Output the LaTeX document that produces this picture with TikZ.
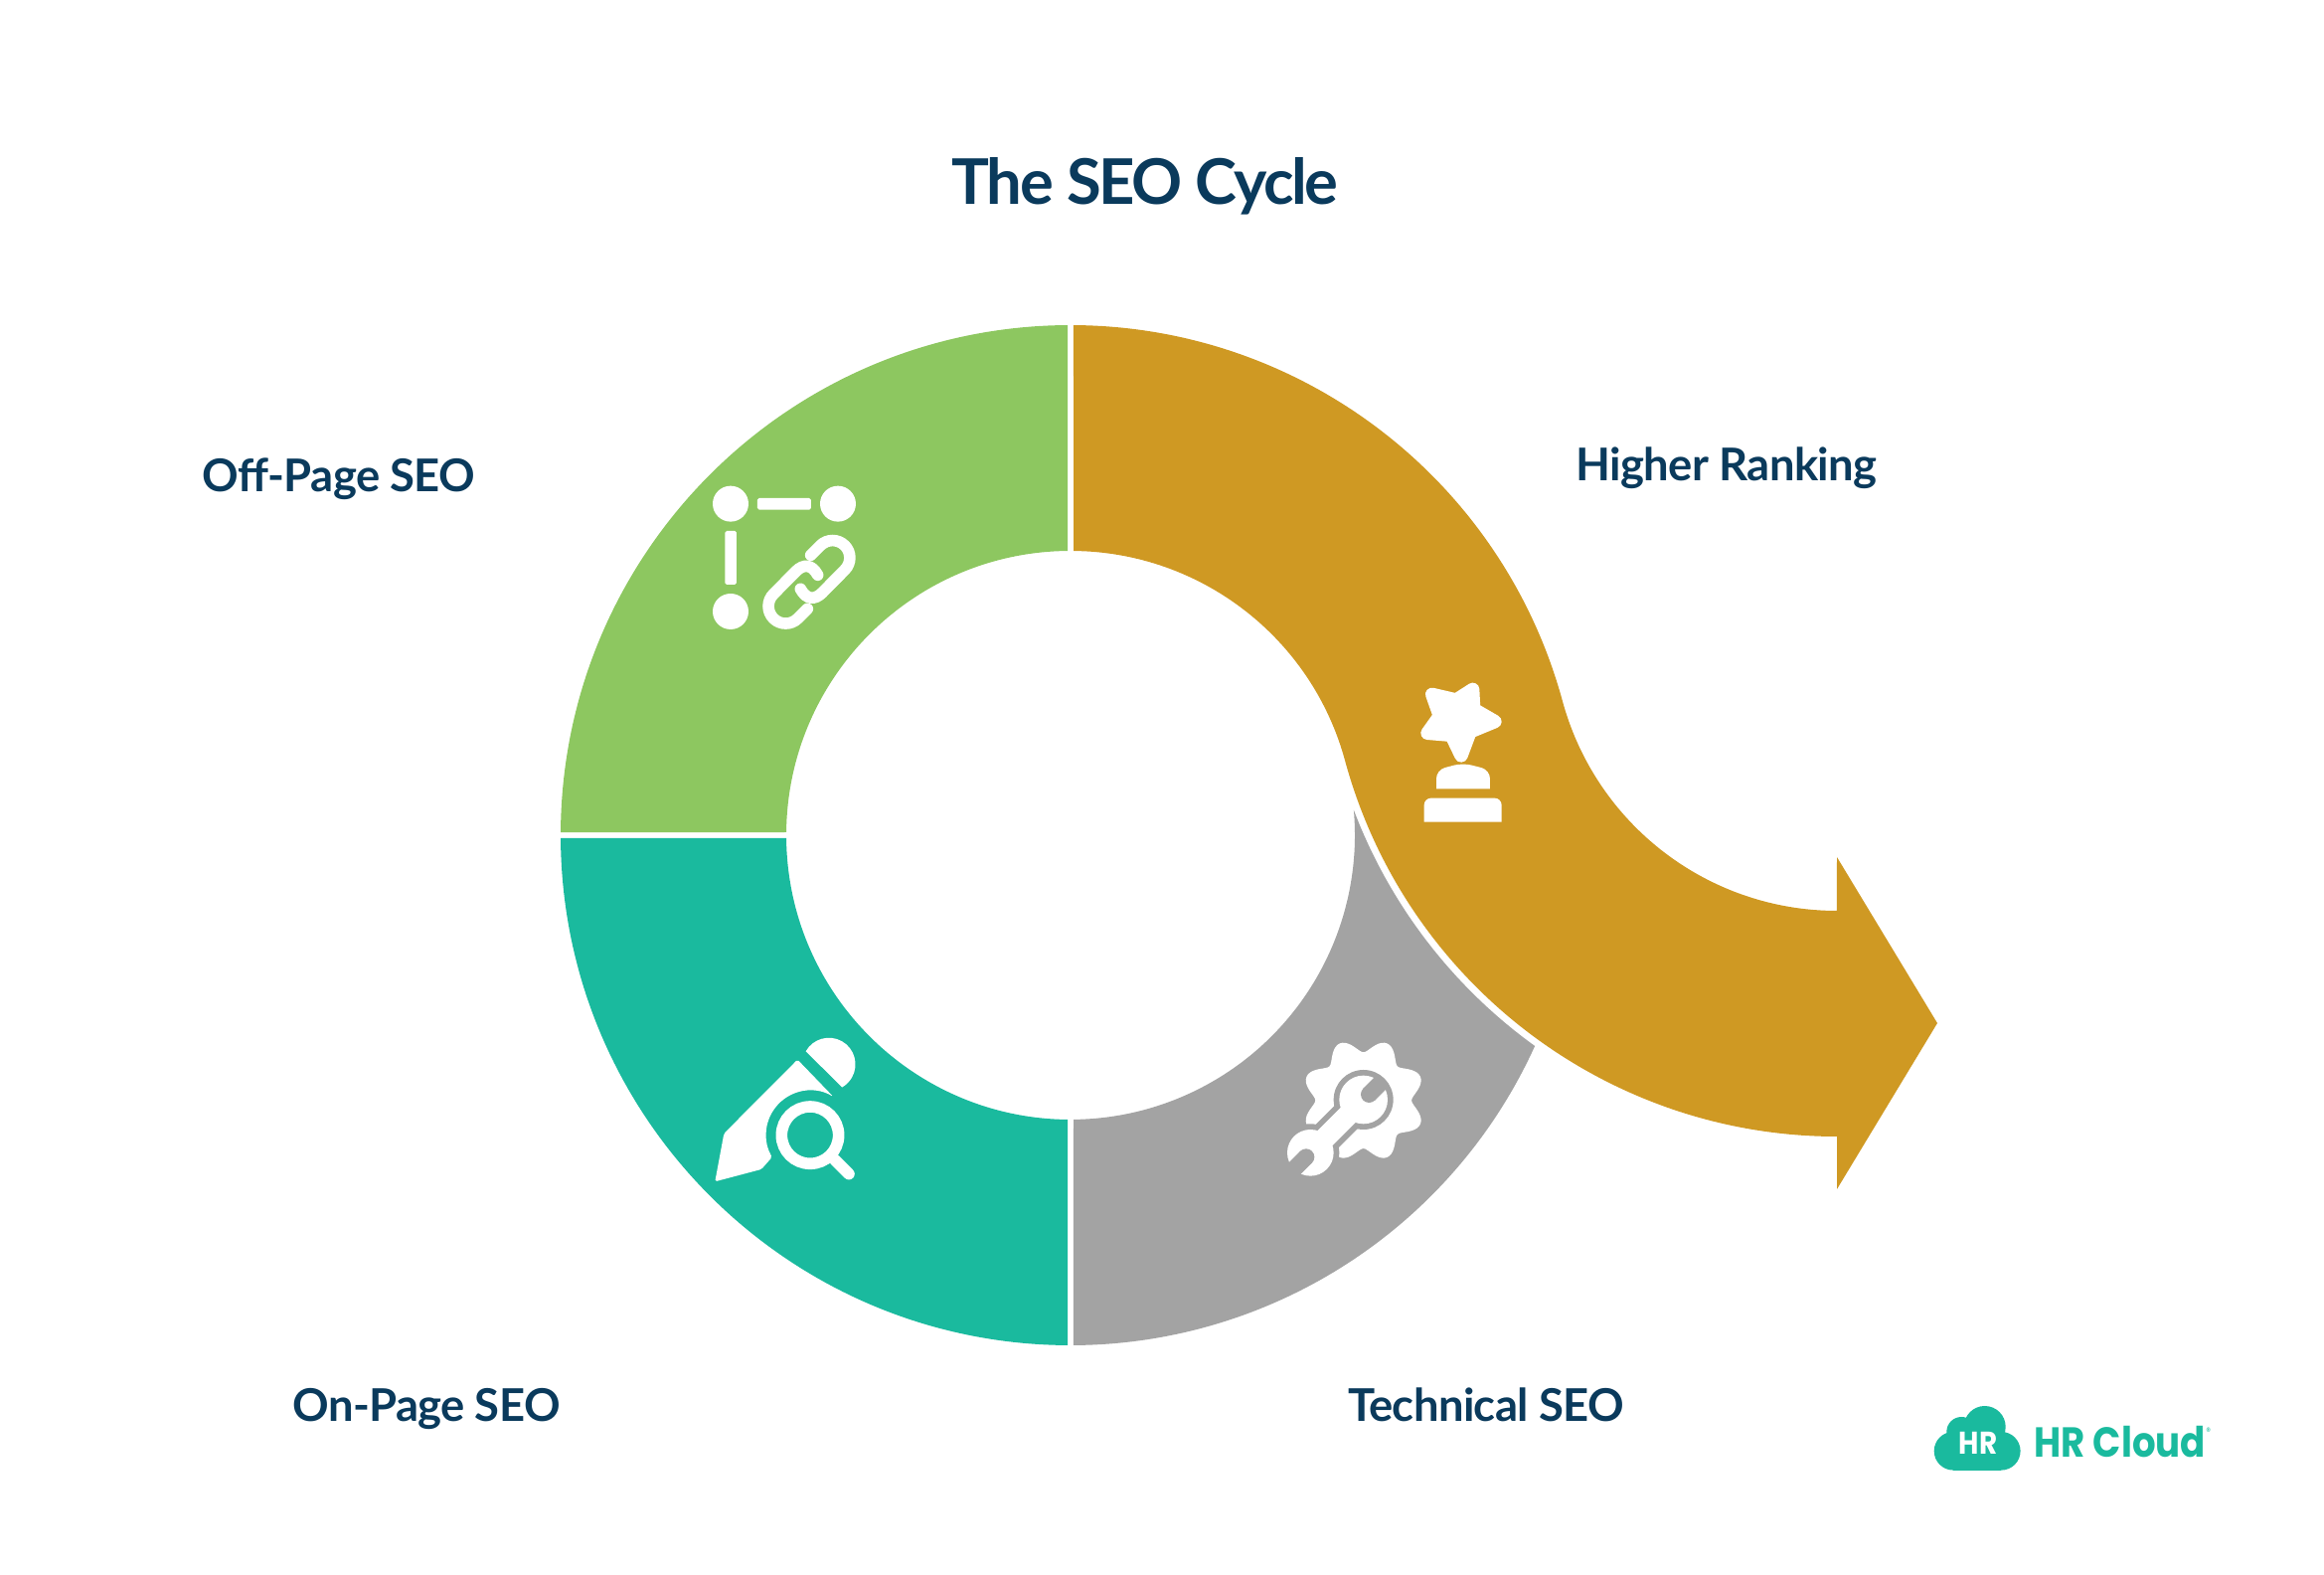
\documentclass[tikz,border=0pt]{standalone}
\usepackage{fontspec}
\setmainfont{Lato}
\newfontfamily\logofont{Poppins}[FakeStretch=0.88]
\newfontfamily\titlefont{Lato}[LetterSpace=-3.8]
\newfontfamily\tagfont{Lato}[LetterSpace=-1.4]
\usetikzlibrary{calc}
\definecolor{navy}{HTML}{0A3A5C}
\definecolor{offpage}{HTML}{8DC760}
\definecolor{onpage}{HTML}{1ABA9E}
\definecolor{technical}{HTML}{A3A3A3}
\definecolor{ranking}{HTML}{CF9923}
\tikzset{
  heading/.style={text=navy,font=\titlefont\fontsize{18}{20}\selectfont\bfseries,anchor=base,inner sep=0pt},
  tag/.style={text=navy,font=\tagfont\fontsize{12.9}{15}\selectfont\bfseries,anchor=base,inner sep=0pt},
  brand/.style={text=onpage,font=\logofont\fontsize{12}{14}\selectfont\bfseries,anchor=base west,inner sep=0pt},
  icon/.style={xscale=0.3333,yscale=-0.3333,white},
  chainlink/.style={draw=white,line width=3.3pt,line cap=round},
  wrenchgap/.style={draw=technical,line width=4.74pt}
}
\begin{document}
\begin{tikzpicture}[x=0.01cm,y=0.01cm,declare function={gearr(\t)=145+41*pow(max((1+cos(8*(\t-22.5)))/2,0.001),0.85);}]
    \useasboundingbox(0,0)rectangle(2338,1584);
    \coordinate (ring) at (1077,744);
    \coordinate (bend) at (1848,954);
    \node[heading] (title) at (1152,1378) {The SEO Cycle};
    \node[tag] (offlabel) at (341,1089.5) {Off-Page SEO};
    \node[tag] (ranklabel) at (1737,1100.5) {Higher Ranking};
    \node[tag] (onlabel) at (429,154) {On-Page SEO};
    \node[tag] (techlabel) at (1495,154) {Technical SEO};
    % ring
    \fill[offpage]($(ring)+(90.6:286)$)--($(ring)+(90.33:513)$)arc[start angle=90.33,end angle=179.67,radius=513]--($(ring)+(179.4:286)$)arc[start angle=179.4,end angle=90.6,radius=286]--cycle;
    \fill[onpage]($(ring)+(180.6:286)$)--($(ring)+(180.33:513)$)arc[start angle=180.33,end angle=269.67,radius=513]--($(ring)+(269.4:286)$)arc[start angle=269.4,end angle=180.6,radius=286]--cycle;
    \fill[technical]($(ring)+(-89.4:286)$)--($(ring)+(-89.67:513)$)arc[start angle=-89.67,end angle=-24.41,radius=513]arc[start angle=234.24,end angle=200.8,radius=520]arc[start angle=5.07,end angle=-89.4,radius=286]--cycle;
    % arrow
    \fill[ranking]($(ring)+(89.67:513)$)arc[start angle=89.67,end angle=15.24,radius=513]arc[start angle=195.24,end angle=270,radius=286]--(1848,722)--(1949,555)--(1848,388)--(1848,441)arc[start angle=270,end angle=195.24,radius=513]arc[start angle=15.24,end angle=89.4,radius=286]--cycle;
    % links icon
    \begin{scope}[shift={(680,1134)},icon]
      \fill(165,170)circle(54);
      \fill(489,170)circle(54);
      \fill(165,495)circle(54);
      \fill[rounded corners=0.5pt](246,153)rectangle(408,188);
      \fill[rounded corners=0.5pt](148,252)rectangle(183,414);
      \foreach \a in {0,180}{
        \draw[chainlink,rotate around={\a:(402,406)}](397,487)--(368,516)arc[start angle=45,end angle=225,radius=52]--(362,374).. controls (385,351) and (410,352) ..(428,385);
      }
    \end{scope}
    % trophy icon
    \begin{scope}[shift={(1380,924)},icon]
      \filldraw[draw=white,line width=3.8pt,line join=round](182,115)--(255,132)--(305,100)--(308,160)--(372,197)--(297,228)--(270,300)--(240,238)--(168,232)--(205,180)--cycle;
      \fill(195,400)[rounded corners=2.5pt]--(195,343)--(275,322)--(357,343)[sharp corners]--(357,400)--cycle;
      \fill(158,500)[rounded corners=2pt]--(158,428)--(392,428)[sharp corners]--(392,500)--cycle;
    \end{scope}
    % pen icon
    \begin{scope}[shift={(680,564)},icon]
      \fill(392,112)arc[start angle=209.4,end angle=420,radius=80]--cycle;
      \fill[rounded corners=0.5pt](367,137)--(475,249)arc[start angle=-59,end angle=-210.2,radius=134]--(258,468)--(118,505)--(145,360)--cycle;
      \draw[white,line width=3.3pt](405,365)circle(86);
      \draw[white,line width=3.3pt,line cap=round](480,440)--(522,482);
    \end{scope}
    % gear icon
    \begin{scope}[shift={(1270,554)},icon]
      \fill plot[domain=0:360,samples=145]({305+gearr(\x)*cos(\x)},{230+gearr(\x)*sin(\x)})--cycle;
      \fill[technical](305,228)circle(90);
      \fill[technical](145,388)circle(87);
      \draw[technical,line width=9.3pt](305,228)--(145,388);
      \fill(305,228)circle(73);
      \fill(145,388)circle(70);
      \draw[white,line width=6.07pt](305,228)--(145,388);
      \fill[technical](322,212)circle(25);
      \draw[wrenchgap](322,212)--(364,170);
      \fill[technical](132,401)circle(25);
      \draw[wrenchgap](132,401)--(80,453);
    \end{scope}
    % logo
    \fill[onpage](1965,124.7)circle(19.3);
    \fill[onpage](1973.3,144)circle(15);
    \fill[onpage](1996.7,149)circle(21);
    \fill[onpage](2013.3,124.7)circle(19.3);
    \fill[onpage](1965,105.3)rectangle(2013.3,135);
    \node[anchor=base,inner sep=0pt,text=white,font=\logofont\fontsize{9}{11}\selectfont\bfseries] (hr) at (1990,121.3) {HR};
    \node[brand] (brandname) at (2046,118) {HR Cloud};
    \node[text=onpage,inner sep=0pt,font=\logofont\fontsize{3}{4}\selectfont] (regmark) at (2221.7,144) {®};
  \end{tikzpicture}
\end{document}
